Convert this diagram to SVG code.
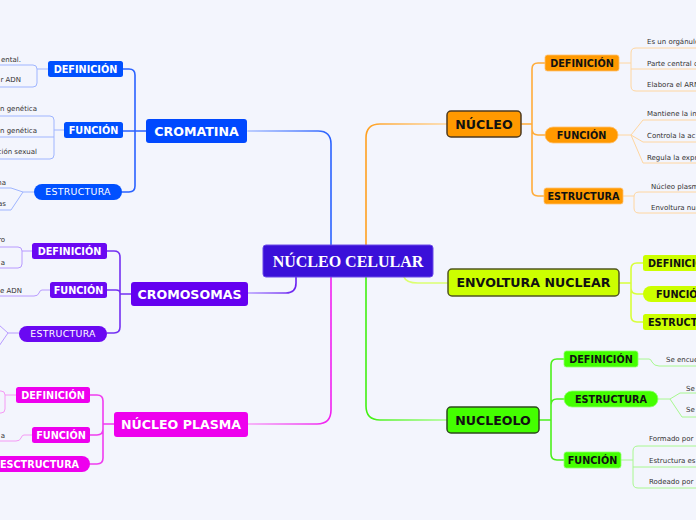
<svg xmlns="http://www.w3.org/2000/svg" width="696" height="520" viewBox="0 0 696 520">
<defs>
<linearGradient id="gBlue" gradientUnits="userSpaceOnUse" x1="248" y1="0" x2="331" y2="0"><stop offset="0" stop-color="#a9bfff"/><stop offset="1" stop-color="#2a62ff"/></linearGradient>
<linearGradient id="gOrange" gradientUnits="userSpaceOnUse" x1="447" y1="0" x2="366" y2="0"><stop offset="0" stop-color="#ffd79e"/><stop offset="1" stop-color="#ffa020"/></linearGradient>
<linearGradient id="gPurple" gradientUnits="userSpaceOnUse" x1="248" y1="0" x2="296" y2="0"><stop offset="0" stop-color="#b49aff"/><stop offset="1" stop-color="#6a20f0"/></linearGradient>
<linearGradient id="gMag" gradientUnits="userSpaceOnUse" x1="248" y1="0" x2="331" y2="0"><stop offset="0" stop-color="#f7a0f7"/><stop offset="1" stop-color="#f020f0"/></linearGradient>
<linearGradient id="gGreen" gradientUnits="userSpaceOnUse" x1="447" y1="0" x2="366" y2="0"><stop offset="0" stop-color="#a8ff8a"/><stop offset="1" stop-color="#40f010"/></linearGradient>
</defs>
<style>
.bg{fill:#f3f5fd}
.ln{fill:none;stroke-width:1.6;stroke-linecap:round;stroke-linejoin:round}
.lf{fill:none;stroke-width:1;stroke-linejoin:round}
.t1{font-family:"DejaVu Sans",Verdana,sans-serif;font-weight:bold;font-size:12.6px;text-anchor:middle}
.t2{font-family:"DejaVu Sans",Verdana,sans-serif;font-weight:bold;font-size:9.7px;text-anchor:middle}
.t2s{font-family:"DejaVu Sans",Verdana,sans-serif;font-weight:bold;font-size:9.7px}
.t2n{font-family:"DejaVu Sans",Verdana,sans-serif;font-size:9.4px;text-anchor:middle;fill:#fff;letter-spacing:0.3px}
.lt{font-family:"DejaVu Sans",Verdana,sans-serif;font-size:7px;fill:#333}
.le{font-family:"DejaVu Sans",Verdana,sans-serif;font-size:7px;fill:#333;text-anchor:end}
.w{fill:#fff}
.k{fill:#111}
</style>
<rect class="bg" x="0" y="0" width="696" height="520"/>

<g id="connectors">
<path class="ln" stroke="url(#gBlue)" d="M331 245 V144 Q331 131 318 131 H248"/>
<path class="ln" stroke="url(#gOrange)" d="M366 245 V138 Q366 124 380 124 H447"/>
<path class="ln" stroke="url(#gPurple)" d="M296 277 V283 Q296 293 286 293 H248"/>
<path class="ln" stroke="#dcff70" d="M404 277 Q406 283 418 283 H448"/>
<path class="ln" stroke="url(#gMag)" d="M331 277 V410 Q331 424 317 424 H248"/>
<path class="ln" stroke="url(#gGreen)" d="M366 277 V406 Q366 420 380 420 H447"/>
<path class="ln" stroke="#2a62ff" d="M146 131 H135 M135 131 V75 Q135 69 129 69 H123 M135 131 H123 M135 131 V186 Q135 192 129 192 H122"/>
<path class="ln" stroke="#ffac3a" d="M521 124 H532 M532 124 V69 Q532 63 538 63 H545 M532 124 V129 Q532 135 538 135 H545 M532 124 V190 Q532 196 538 196 H544"/>
<path class="ln" stroke="#d8ff3a" d="M619 283 H631 M631 283 V269 Q631 263 637 263 H643 M631 283 V288 Q631 294 637 294 H643 M631 283 V316 Q631 322 637 322 H643"/>
<path class="ln" stroke="#4cf01c" d="M539 420 H551 M551 420 V365 Q551 359 557 359 H564 M551 420 V405 Q551 399 557 399 H564 M551 420 V454 Q551 460 557 460 H564"/>
<path class="ln" stroke="#7430f2" d="M131 294 H120 M120 294 V257 Q120 251 114 251 H107 M120 294 V293 Q120 290 116 290 H107 M120 294 V327 Q120 333 114 333 H107"/>
<path class="ln" stroke="#f03cf0" d="M114 424 H103 M103 424 V401 Q103 395 97 395 H90 M103 424 V429 Q103 435 97 435 H90 M103 424 V458 Q103 464 97 464 H90"/>
<path class="lf" stroke="#9fb5ff" d="M48 69 H37 M-2 65 H33 Q37 65 37 69 V83 Q37 87 33 87 H-2"/>
<path class="lf" stroke="#9fb5ff" d="M64 130 H54 M-2 116 H50 Q54 116 54 120 V155 Q54 159 50 159 H-2 M-2 137 H54"/>
<path class="lf" stroke="#9fb5ff" d="M34 192 H23 L11 188 H-2 M23 192 L11 210 H-2"/>
<path class="lf" stroke="#b89aff" d="M32 251 H22 M-2 247 H18 Q22 247 22 251 V264 Q22 268 18 268 H-2"/>
<path class="lf" stroke="#b89aff" d="M50 290 H42 Q40 290 39 293 Q38 296 34 296 H-2"/>
<path class="lf" stroke="#b89aff" d="M19 333 H8 L-1 325 M8 333 L-1 346"/>
<path class="lf" stroke="#f59af5" d="M16 395 H5 M-5 391 H1 Q5 391 5 395 V409 Q5 413 1 413 H-5"/>
<path class="lf" stroke="#f59af5" d="M32 435 H24 Q22 435 21 438 Q20 441 16 441 H-2"/>
<path class="lf" stroke="#ffd6a0" d="M619 63 H631 M698 48 H636 Q631 48 631 53 V86 Q631 91 636 91 H698 M631 69 H698"/>
<path class="lf" stroke="#ffd6a0" d="M618 135 H631 L643 120 H698 M631 135 L643 142 H698 M631 135 L643 163 H698"/>
<path class="lf" stroke="#ffd6a0" d="M623 196 H634 M698 192 H639 Q634 192 634 197 V208 Q634 213 639 213 H698"/>
<path class="lf" stroke="#a8f890" d="M638 359 H649 Q651 359 652 362 Q654 366 659 366 H698"/>
<path class="lf" stroke="#a8f890" d="M658 399 H670 L680 393 H698 M670 399 L682 417 H698"/>
<path class="lf" stroke="#a8f890" d="M621 460 H633 M698 446 H638 Q633 446 633 451 V483 Q633 488 638 488 H698 M633 467 H698"/>
</g>

<g id="nucleo-celular">
<rect x="263" y="245" width="170" height="32" rx="3" fill="#3a10d9" stroke="#6a4ae8" stroke-width="1"/>
<text x="348" y="266.5" font-family="'Liberation Serif','Times New Roman',serif" font-weight="bold" font-size="16" text-anchor="middle" fill="#fff">NÚCLEO CELULAR</text>
</g>

<g id="cromatina">
<rect x="146" y="119" width="101" height="24" rx="3" fill="#0048ff"/>
<text class="t1 w" x="196.5" y="135.6">CROMATINA</text>
</g>
<g id="cromatina-definicion">
<rect x="48" y="61" width="75" height="16" rx="2.5" fill="#0050ff"/>
<text class="t2 w" x="85.5" y="72.5">DEFINICIÓN</text>
<text class="le" x="21" y="61.5">ental.</text>
<text class="le" x="21" y="82">r ADN</text>
</g>
<g id="cromatina-funcion">
<rect x="64" y="122" width="59" height="16" rx="2.5" fill="#0050ff"/>
<text class="t2 w" x="93.5" y="133.5">FUNCIÓN</text>
<text class="le" x="37" y="111">on genética</text>
<text class="le" x="37" y="133">on genética</text>
<text class="le" x="37" y="154">ción sexual</text>
</g>
<g id="cromatina-estructura">
<rect x="34" y="184" width="88" height="16" rx="8" fill="#0050ff"/>
<text class="t2n" x="78" y="195.3">ESTRUCTURA</text>
<text class="le" x="6" y="184.5">na</text>
<text class="le" x="6" y="206">as</text>
</g>

<g id="cromosomas">
<rect x="131" y="282" width="117" height="24" rx="3" fill="#6400f0"/>
<text class="t1 w" x="189.5" y="298.6">CROMOSOMAS</text>
</g>
<g id="cromosomas-definicion">
<rect x="32" y="243" width="75" height="16" rx="2.5" fill="#6a08f2"/>
<text class="t2 w" x="69.5" y="254.5">DEFINICIÓN</text>
<text class="le" x="5" y="242">ro</text>
<text class="le" x="5" y="264.5">a</text>
</g>
<g id="cromosomas-funcion">
<rect x="50" y="282" width="57" height="16" rx="2.5" fill="#6a08f2"/>
<text class="t2 w" x="78.5" y="293.5">FUNCIÓN</text>
<text class="le" x="22" y="293">e ADN</text>
</g>
<g id="cromosomas-estructura">
<rect x="19" y="326" width="88" height="16" rx="8" fill="#6a08f2"/>
<text class="t2n" x="63" y="337.3">ESTRUCTURA</text>
</g>

<g id="nucleo-plasma">
<rect x="114" y="412" width="134" height="25" rx="3" fill="#ee00ee"/>
<text class="t1 w" x="181" y="429">NÚCLEO PLASMA</text>
</g>
<g id="plasma-definicion">
<rect x="16" y="387" width="74" height="16" rx="2.5" fill="#ee00ee"/>
<text class="t2 w" x="53" y="398.5">DEFINICIÓN</text>
</g>
<g id="plasma-funcion">
<rect x="32" y="427" width="58" height="16" rx="2.5" fill="#ee00ee"/>
<text class="t2 w" x="61" y="438.5">FUNCIÓN</text>
<text class="le" x="5" y="438">a</text>
</g>
<g id="plasma-estructura">
<rect x="-16" y="456" width="106" height="16" rx="8" fill="#ee00ee"/>
<text class="t2 w" x="39.5" y="467.5" font-size="9.4">ESCTRUCTURA</text>
</g>

<g id="nucleo">
<rect x="447" y="111" width="74" height="26" rx="4" fill="#ff9900" stroke="#4d3a20" stroke-width="1.5"/>
<text class="t1 k" x="484" y="128.6">NÚCLEO</text>
</g>
<g id="nucleo-definicion">
<rect x="545" y="55" width="74" height="16" rx="2.5" fill="#ff9900" stroke="#ffc070" stroke-width="0.8"/>
<text class="t2 k" x="582" y="66.5">DEFINICIÓN</text>
<text class="lt" x="647" y="44">Es un orgánulo</text>
<text class="lt" x="647" y="65.5">Parte central de</text>
<text class="lt" x="647" y="87">Elabora el ARN</text>
</g>
<g id="nucleo-funcion">
<rect x="545" y="127" width="73" height="16" rx="8" fill="#ff9900" stroke="#ffc070" stroke-width="0.8"/>
<text class="t2 k" x="581.5" y="138.5">FUNCIÓN</text>
<text class="lt" x="647" y="116">Mantiene la in</text>
<text class="lt" x="647" y="138">Controla la ac</text>
<text class="lt" x="647" y="159.5">Regula la expr</text>
</g>
<g id="nucleo-estructura">
<rect x="544" y="188" width="79" height="16" rx="2.5" fill="#ff9900" stroke="#ffc070" stroke-width="0.8"/>
<text class="t2 k" x="583.5" y="199.5">ESTRUCTURA</text>
<text class="lt" x="651" y="189">Núcleo plasma</text>
<text class="lt" x="651" y="210">Envoltura nuclear</text>
</g>

<g id="envoltura-nuclear">
<rect x="448" y="269" width="171" height="27" rx="4" fill="#ccff00" stroke="#505520" stroke-width="1.5"/>
<text class="t1 k" x="533.5" y="287.2">ENVOLTURA NUCLEAR</text>
</g>
<g id="envoltura-definicion">
<rect x="643" y="255" width="80" height="16" rx="2.5" fill="#ccff00"/>
<text class="t2s k" x="648" y="266.5">DEFINICIÓN</text>
</g>
<g id="envoltura-funcion">
<rect x="643" y="286" width="80" height="16" rx="8" fill="#ccff00"/>
<text class="t2s k" x="656" y="297.5">FUNCIÓN</text>
</g>
<g id="envoltura-estructura">
<rect x="643" y="314" width="80" height="16" rx="2.5" fill="#ccff00"/>
<text class="t2s k" x="648" y="325.5">ESTRUCTURA</text>
</g>

<g id="nucleolo">
<rect x="447" y="407" width="92" height="26" rx="4" fill="#44ff00" stroke="#2c4a1c" stroke-width="1.5"/>
<text class="t1 k" x="493" y="424.6">NUCLEOLO</text>
</g>
<g id="nucleolo-definicion">
<rect x="564" y="351" width="74" height="16" rx="2.5" fill="#44ff00" stroke="#90ff70" stroke-width="0.8"/>
<text class="t2 k" x="601" y="362.5">DEFINICIÓN</text>
<text class="lt" x="666" y="362">Se encuentra</text>
</g>
<g id="nucleolo-estructura">
<rect x="564" y="391" width="94" height="16" rx="8" fill="#44ff00" stroke="#90ff70" stroke-width="0.8"/>
<text class="t2 k" x="611" y="402.5">ESTRUCTURA</text>
<text class="lt" x="686" y="391">Se</text>
<text class="lt" x="686" y="412">Se</text>
</g>
<g id="nucleolo-funcion">
<rect x="564" y="452" width="57" height="16" rx="2.5" fill="#44ff00" stroke="#90ff70" stroke-width="0.8"/>
<text class="t2 k" x="592.5" y="463.5">FUNCIÓN</text>
<text class="lt" x="649" y="441">Formado por</text>
<text class="lt" x="649" y="463">Estructura es</text>
<text class="lt" x="649" y="484">Rodeado por</text>
</g>
</svg>
